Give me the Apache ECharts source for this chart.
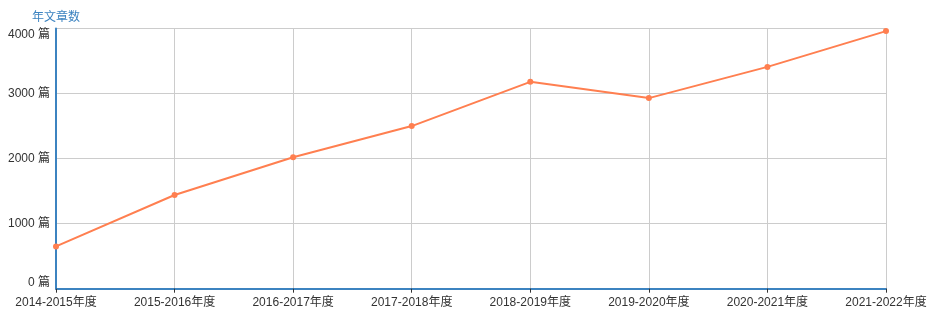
<!DOCTYPE html>
<html><head><meta charset="utf-8">
<script src="https://cdn.jsdelivr.net/npm/echarts@6/dist/echarts.min.js"></script>
<style>html,body{margin:0;padding:0;background:#fff}#c{width:945px;height:328px}</style>
</head><body><div id="c"></div>
<script>
const categories = ['2014-2015年度','2015-2016年度','2016-2017年度','2017-2018年度','2018-2019年度','2019-2020年度','2020-2021年度','2021-2022年度'];
const articleCounts = [650, 1440, 2020, 2500, 3180, 2930, 3410, 3960];
const yAxisName = '年文章数';
const yUnit = ' 篇';

const chart = echarts.init(document.getElementById('c'), null, {renderer:'canvas'});
chart.setOption({
  animation:false,
  grid:{left:56,right:59,top:28.5,bottom:39.3,containLabel:false},
  xAxis:{
    type:'category', data:categories, boundaryGap:false,
    axisLine:{lineStyle:{color:'#3c83c0',width:2}},
    axisTick:{show:true,lineStyle:{color:'#333'},length:4},
    axisLabel:{color:'#333',fontSize:12,margin:8,fontFamily:'Liberation Sans, Arial, Noto Sans CJK SC'},
    splitLine:{show:true,lineStyle:{color:'#ccc'}}
  },
  yAxis:{
    type:'value', min:0, max:4000, interval:1000,
    name:yAxisName, nameGap:5,
    nameTextStyle:{color:'#3c83c0',fontSize:12,fontFamily:'Liberation Sans, Arial, Noto Sans CJK SC'},
    axisLine:{show:true,lineStyle:{color:'#3c83c0',width:2}},
    axisTick:{show:false},
    axisLabel:{color:'#333',fontSize:12,margin:6,formatter:v=>v+yUnit,
      verticalAlignMinLabel:'bottom',verticalAlignMaxLabel:'top',
      fontFamily:'Liberation Sans, Arial, Noto Sans CJK SC'},
    splitLine:{show:true,lineStyle:{color:'#ccc'}}
  },
  series:[{
    type:'line', data:articleCounts,
    symbol:'circle', symbolSize:6,
    lineStyle:{color:'#ff7f50',width:2},
    itemStyle:{color:'#ff7f50'}
  }]
});
</script></body></html>
